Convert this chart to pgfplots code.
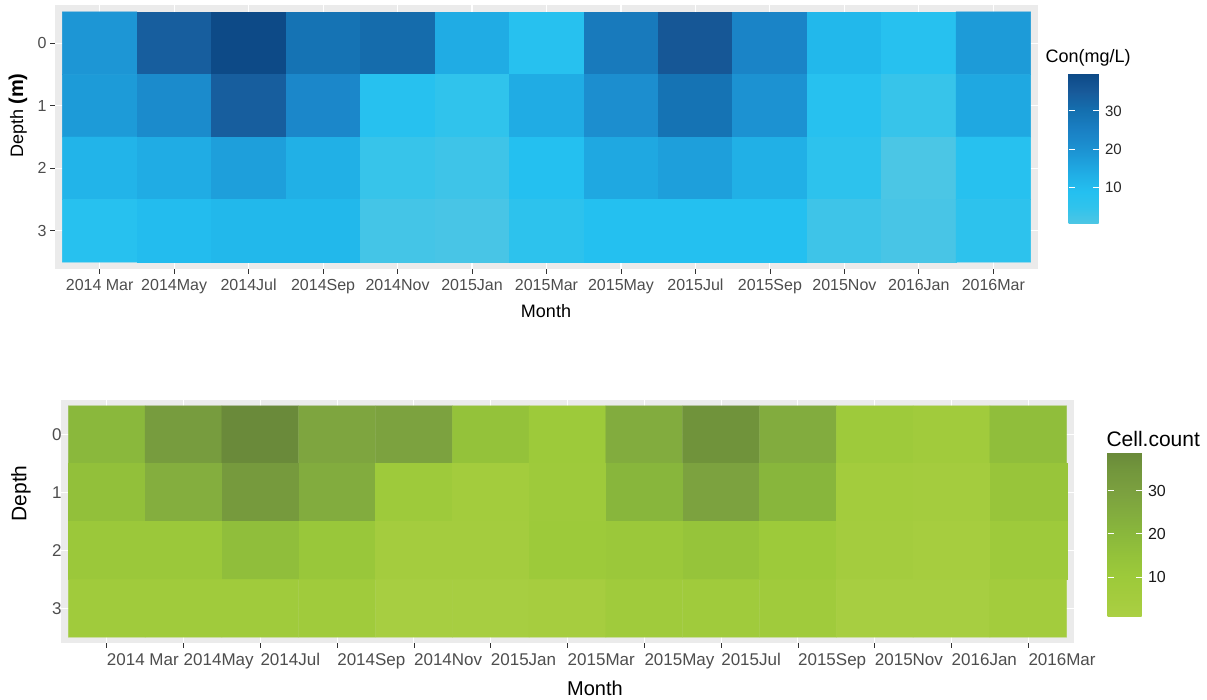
\documentclass[border=0pt]{standalone}
\usepackage{fontspec}
\setmainfont{Liberation Sans}
\usepackage{pgfplots}
\pgfplotsset{compat=1.18}
\usepackage{pgfplotstable}

\definecolor{ggbg}{HTML}{EBEBEB}
\definecolor{ggtext}{HTML}{4D4D4D}
\definecolor{ggtick}{HTML}{333333}

\pgfplotsset{
  colormap={ggblue}{
    rgb255(6pt)=(78,198,228)
    rgb255(50pt)=(48,195,236)
    rgb255(90pt)=(36,192,240)
    rgb255(140pt)=(32,172,228)
    rgb255(200pt)=(28,146,210)
    rgb255(250pt)=(26,128,196)
    rgb255(300pt)=(20,112,176)
    rgb255(350pt)=(24,90,154)
    rgb255(396pt)=(13,74,135)
  },
  colormap={gggreen}{
    rgb255(7pt)=(171,208,68)
    rgb255(50pt)=(164,204,62)
    rgb255(100pt)=(157,202,58)
    rgb255(150pt)=(148,194,58)
    rgb255(200pt)=(138,184,60)
    rgb255(250pt)=(130,172,62)
    rgb255(300pt)=(123,160,63)
    rgb255(350pt)=(114,150,60)
    rgb255(388pt)=(106,138,58)
  },
  ggheat/.style={
    scale only axis,
    axis background/.style={fill=ggbg},
    grid=major, grid style={white, line width=1.1pt},
    axis line style={draw=none},
    tick pos=left, tick align=outside,
    major tick length=5pt,
    tick style={ggtick, line width=0.8pt},
    xtick={0,...,12}, ytick={0,1,2,3},
    y dir=reverse,
    /pgf/number format/assume math mode=true,
  },
  ggbar/.style={
    scale only axis,
    axis line style={draw=none},
    ytick={10,20,30},
    tick align=inside,
    ytick pos=both,
    yticklabel pos=right,
    major tick length=6pt,
    ytick style={white, line width=0.9pt},
    every tick/.style={white, line width=0.9pt},
    /pgf/number format/assume math mode=true,
  }
}

\pgfplotstableread{
x y c
0 0 19
1 0 34
2 0 39.6
3 0 29
4 0 31
5 0 14
6 0 8
7 0 27
8 0 36
9 0 24
10 0 11
11 0 8
12 0 18
0 1 18
1 1 22
2 1 34
3 1 23
4 1 8
5 1 5
6 1 14
7 1 21
8 1 29
9 1 20
10 1 8
11 1 4
12 1 15
0 2 12
1 2 14
2 2 17
3 2 13
4 2 4
5 2 3
6 2 9
7 2 15
8 2 17
9 2 13
10 2 6
11 2 1
12 2 8
0 3 8
1 3 10
2 3 11
3 3 11
4 3 2
5 3 1.5
6 3 6
7 3 9
8 3 9
9 3 9
10 3 3
11 3 1.5
12 3 6
}\bluedata

\pgfplotstableread{
x y c
0 0 20
1 0 32
2 0 38.8
3 0 28
4 0 29
5 0 15
6 0 10
7 0 25
8 0 36
9 0 25
10 0 9
11 0 7
12 0 17
0 1 16
1 1 24
2 1 33
3 1 25
4 1 9
5 1 6
6 1 9
7 1 21
8 1 29
9 1 21
10 1 6
11 1 5
12 1 13
0 2 11
1 2 11
2 2 17
3 2 12
4 2 5
5 2 5
6 2 10
7 2 11
8 2 14
9 2 10
10 2 5
11 2 4
12 2 9
0 3 8
1 3 8
2 3 8
3 3 8
4 3 3
5 3 3
6 3 4
7 3 8
8 3 8
9 3 8
10 3 3
11 3 3
12 3 6
}\greendata

\begin{document}
\begin{tikzpicture}
\useasboundingbox (0,0) rectangle (1207pt,700pt);

% ---------- top heatmap ----------
\begin{axis}[ggheat,
  at={(55pt,431pt)}, anchor=south west,
  width=983pt, height=264pt,
  xmin=-0.6, xmax=12.6, ymin=-0.61, ymax=3.61,
  xticklabels={2014 Mar,2014May,2014Jul,2014Sep,2014Nov,2015Jan,2015Mar,2015May,2015Jul,2015Sep,2015Nov,2016Jan,2016Mar},
  xticklabel style={font=\fontsize{16}{16}\selectfont, color=ggtext, yshift=-1.5pt},
  yticklabel style={font=\fontsize{16}{16}\selectfont, color=ggtext},
  colormap name=ggblue,
  point meta min=0.6, point meta max=39.6,
  colorbar,
  colorbar/width=30pt,
  colorbar style={ggbar,
    at={(parent axis.north east)}, anchor=north west,
    xshift=22pt, yshift=-69pt,
    width=30pt, height=150pt,
    yticklabel style={font=\fontsize{15}{15}\selectfont, color=black!85, xshift=3pt},
  },
]
\addplot[matrix plot*, mesh/cols=13, point meta=explicit] table[x=x, y=y, meta=c] {\bluedata};
\end{axis}

\node[font=\fontsize{18}{18}\selectfont] at (546pt,389pt) {Month};
\node[rotate=90] at (18pt,584.5pt) {\fontsize{18}{18}\selectfont Depth \fontsize{20}{20}\selectfont\bfseries (m)};
\node[anchor=west, font=\fontsize{18}{18}\selectfont] at (1042pt,642pt) {Con(mg/L)};

% ---------- bottom heatmap ----------
\begin{axis}[ggheat,
  at={(61pt,57pt)}, anchor=south west,
  width=1013pt, height=243pt,
  xmin=-0.595, xmax=12.595, ymin=-0.6, ymax=3.6,
  xticklabels={2014 Mar,2014May,2014Jul,2014Sep,2014Nov,2015Jan,2015Mar,2015May,2015Jul,2015Sep,2015Nov,2016Jan,2016Mar},
  xticklabel style={font=\fontsize{17}{17}\selectfont, color=ggtext, anchor=north west, inner xsep=0pt, yshift=-2pt},
  yticklabel style={font=\fontsize{17}{17}\selectfont, color=ggtext, xshift=9pt},
  ytick style={draw=none},
  colormap name=gggreen,
  point meta min=0.7, point meta max=38.8,
  colorbar,
  colorbar/width=34pt,
  colorbar style={ggbar,
    at={(parent axis.north east)}, anchor=north west,
    xshift=25pt, yshift=-53pt,
    width=34pt, height=164pt,
    yticklabel style={font=\fontsize{16}{16}\selectfont, color=black!90, xshift=3pt},
  },
]
\addplot[matrix plot*, mesh/cols=13, point meta=explicit] table[x=x, y=y, meta=c] {\greendata};
\end{axis}

\node[font=\fontsize{20}{20}\selectfont] at (595pt,12pt) {Month};
\node[rotate=90, font=\fontsize{21}{21}\selectfont] at (21pt,206.5pt) {Depth};
\node[anchor=west, font=\fontsize{21}{21}\selectfont] at (1103pt,261pt) {Cell.count};
\end{tikzpicture}
\end{document}
